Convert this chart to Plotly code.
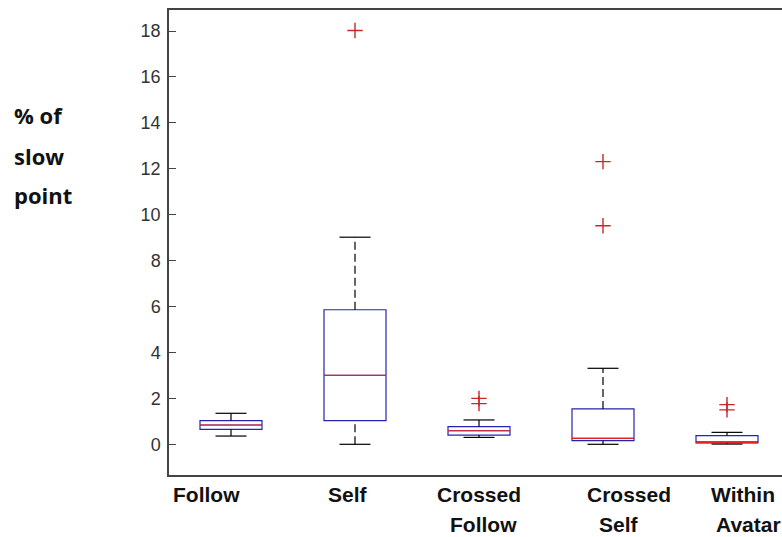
import plotly.graph_objects as go

# ---- data ----
positions = [1, 2, 3, 4, 5]
label_lines = [["Follow"], ["Self"], ["Crossed", "Follow"], ["Crossed", "Self"], ["Within", "Avatar"]]
q1 = [0.65, 1.03, 0.40, 0.16, 0.06]
median = [0.84, 3.00, 0.59, 0.26, 0.07]
q3 = [1.03, 5.86, 0.77, 1.54, 0.38]
lower_whisker = [0.36, 0.00, 0.30, 0.00, 0.01]
upper_whisker = [1.35, 9.02, 1.06, 3.31, 0.52]
outlier_x = [2, 3, 3, 4, 4, 5, 5]
outlier_y = [18.02, 2.00, 1.77, 12.31, 9.52, 1.73, 1.50]
y_ticks = [0, 2, 4, 6, 8, 10, 12, 14, 16, 18]
y_title_lines = ["% of", "slow", "point"]

# ---- layout geometry (pixels) ----
W, H = 782, 537
ML, MT, MB, MR = 169, 10, 62, 0
PW, PH = W - ML - MR, H - MT - MB
BOX_W = 0.5
CAP_HALF = 0.125

BLUE = "#2424b0"
RED = "#e02424"
OUT_RED = "#c62828"

fig = go.Figure()

fig.add_trace(go.Box(
    x=positions, q1=q1, median=median, q3=q3,
    lowerfence=q1, upperfence=q3,
    width=BOX_W, fillcolor="white",
    line=dict(color=BLUE, width=1.2),
    whiskerwidth=0, showlegend=False, hoverinfo="skip",
))

# whiskers (dashed)
wx, wy = [], []
for p, a, b, c, d in zip(positions, lower_whisker, q1, q3, upper_whisker):
    wx += [p, p, None, p, p, None]
    wy += [a, b, None, c, d, None]
fig.add_trace(go.Scatter(x=wx, y=wy, mode="lines",
                         line=dict(color="black", width=1.2, dash="8px,4px"),
                         showlegend=False, hoverinfo="skip"))

# caps
cx, cy = [], []
for p, a, d in zip(positions, lower_whisker, upper_whisker):
    cx += [p - CAP_HALF, p + CAP_HALF, None, p - CAP_HALF, p + CAP_HALF, None]
    cy += [a, a, None, d, d, None]
fig.add_trace(go.Scatter(x=cx, y=cy, mode="lines",
                         line=dict(color="black", width=1.2),
                         showlegend=False, hoverinfo="skip"))

# medians (red)
mx, my = [], []
for p, m in zip(positions, median):
    mx += [p - BOX_W / 2, p + BOX_W / 2, None]
    my += [m, m, None]
fig.add_trace(go.Scatter(x=mx, y=my, mode="lines",
                         line=dict(color=RED, width=1.2),
                         showlegend=False, hoverinfo="skip"))

# outliers
fig.add_trace(go.Scatter(x=outlier_x, y=outlier_y, mode="markers",
                         marker=dict(symbol="cross-thin", size=11,
                                     line=dict(color=OUT_RED, width=1.4)),
                         showlegend=False, hoverinfo="skip"))

def px_to_paper(px, py):
    return (px - ML) / PW, (H - MB - py) / PH

annotations = []
# category labels (center x of each line, baseline y)
cat_line_px = [[(206, 503)], [(348, 503)], [(479, 503), (483, 533)],
               [(629, 503), (619, 533)], [(743, 503), (748, 533)]]
for lines, pos in zip(label_lines, cat_line_px):
    for text, (px, py) in zip(lines, pos):
        xp, yp = px_to_paper(px, py)
        annotations.append(dict(text="<b>" + text + "</b>", x=xp, y=yp, xref="paper", yref="paper",
                                xanchor="center", yanchor="bottom", showarrow=False,
                                yshift=-5,
                                font=dict(family="Liberation Sans, Arial", size=21,
                                          color="#111111")))
# y title
title_px = [(12, 115), (12, 156), (12, 195)]
for text, (px, py) in zip(y_title_lines, title_px):
    xp, yp = px_to_paper(px, py)
    annotations.append(dict(text="<b>" + text + "</b>", x=xp, y=yp, xref="paper", yref="paper",
                            xanchor="left", yanchor="middle", showarrow=False,
                            font=dict(family="Open Sans", size=22, color="#111111")))

fig.update_layout(
    width=W, height=H,
    margin=dict(l=ML, r=MR, t=MT, b=MB, pad=0),
    paper_bgcolor="white", plot_bgcolor="white",
    showlegend=False,
    annotations=annotations,
    xaxis=dict(range=[0.5, 0.5 + PW / 124.0], showticklabels=False, ticks="",
               showgrid=False, zeroline=False, showline=True, linecolor="#444444",
               linewidth=1.5, mirror=True, fixedrange=True),
    yaxis=dict(range=[-1.337, 18.915], tickvals=y_ticks, ticks="inside", ticklen=7,
               tickcolor="#444444", tickwidth=1, showgrid=False, zeroline=False,
               showline=True, linecolor="#444444", linewidth=1.5, mirror=False,
               tickfont=dict(family="Liberation Sans, Arial", size=18, color="#333333"),
               ticklabelstandoff=3, fixedrange=True),
)

fig.write_html("out.html")
